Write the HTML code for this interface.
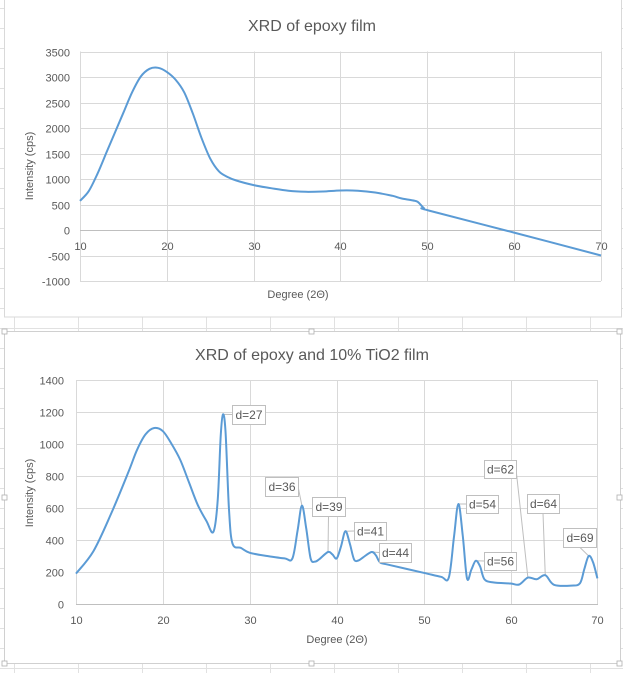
<!DOCTYPE html>
<html><head><meta charset="utf-8">
<style>
html,body{margin:0;padding:0;background:#fff;}
body{width:623px;height:673px;overflow:hidden;position:relative;font-family:"Liberation Sans",sans-serif;}
svg{position:absolute;left:0;top:0;}
text{font-family:"Liberation Sans",sans-serif;fill:#595959;}
</style></head><body>
<svg width="623" height="673" viewBox="0 0 623 673" xmlns="http://www.w3.org/2000/svg">
<g id="bg" stroke="#e1e1e1" stroke-width="1"></g>
<rect x="4.5" y="-1" width="617" height="318" fill="#fff" stroke="#d9d9d9"/>
<text x="312" y="31" font-size="16" text-anchor="middle">XRD of epoxy film</text>
<g id="g1" stroke="#d9d9d9" stroke-width="1"></g>
<g id="t1" font-size="11"></g>
<text x="298" y="298" font-size="11" text-anchor="middle">Degree (2Θ)</text>
<text transform="translate(33,166) rotate(-90)" font-size="11" text-anchor="middle">Intensity (cps)</text>
<path id="p1" fill="none" stroke="#5b9bd5" stroke-width="2"/>
<rect x="4.5" y="331.5" width="616" height="332" fill="#fff" stroke="#d0d0d0"/>
<g fill="#fff" stroke="#b0b0b0" stroke-width="0.8">
<rect x="2" y="329" width="5" height="5"/><rect x="309" y="329" width="5" height="5"/><rect x="617" y="329" width="5" height="5"/>
<rect x="2" y="495" width="5" height="5"/><rect x="617" y="495" width="5" height="5"/>
<rect x="2" y="661" width="5" height="5"/><rect x="309" y="661" width="5" height="5"/><rect x="617" y="661" width="5" height="5"/>
</g>
<text x="312" y="360" font-size="16" text-anchor="middle">XRD of epoxy and 10% TiO2 film</text>
<g id="g2" stroke="#d9d9d9" stroke-width="1"></g>
<g id="t2" font-size="11"></g>
<text x="337" y="643" font-size="11" text-anchor="middle">Degree (2Θ)</text>
<text transform="translate(33,493) rotate(-90)" font-size="11" text-anchor="middle">Intensity (cps)</text>
<g id="lead" stroke="#bfbfbf" stroke-width="1" fill="none"></g>
<path id="p2" fill="none" stroke="#5b9bd5" stroke-width="2"/>
<g id="labs" font-size="12"></g>
</svg>
<script>
var NS="http://www.w3.org/2000/svg";
function el(p,t,a,txt){var e=document.createElementNS(NS,t);for(var k in a)e.setAttribute(k,a[k]);if(txt!=null)e.textContent=txt;document.getElementById(p).appendChild(e);return e;}
[14,78,142,206,270,334,398,462,526,590].forEach(function(x){el("bg","line",{x1:x+.5,y1:0,x2:x+.5,y2:673});});
for(var y=8;y<673;y+=20)el("bg","line",{x1:0,y1:y+.5,x2:623,y2:y+.5});
function smooth(pts){var d="M"+pts[0][0].toFixed(1)+","+pts[0][1].toFixed(1);
for(var i=0;i<pts.length-1;i++){var p0=pts[i-1]||pts[i],p1=pts[i],p2=pts[i+1],p3=pts[i+2]||p2;
var c1=[p1[0]+(p2[0]-p0[0])/6,p1[1]+(p2[1]-p0[1])/6],c2=[p2[0]-(p3[0]-p1[0])/6,p2[1]-(p3[1]-p1[1])/6];
d+="C"+c1[0].toFixed(1)+","+c1[1].toFixed(1)+" "+c2[0].toFixed(1)+","+c2[1].toFixed(1)+" "+p2[0].toFixed(1)+","+p2[1].toFixed(1);}return d;}
var X1=function(d){return 80+(d-10)*8.683},Y1=function(v){return 230-v*0.051};
for(var v=-1000;v<=3500;v+=500){var yy=Math.round(Y1(v))+.5;el("g1","line",{x1:80,y1:yy,x2:601,y2:yy});el("t1","text",{x:70,y:yy+4,"text-anchor":"end"},v);}
for(var d=10;d<=70;d+=10){var xx=Math.round(X1(d))+.5;el("g1","line",{x1:xx,y1:Y1(3500),x2:xx,y2:Y1(-1000)});el("t1","text",{x:xx,y:250,"text-anchor":"middle"},d);}
el("g1","line",{x1:80,y1:230.5,x2:601,y2:230.5,stroke:"#bfbfbf"});
var s1=[[10,570],[11,760],[12,1100],[13,1500],[14,1900],[15,2300],[16,2700],[17,3010],[18,3160],[19,3180],[20,3100],[21,2950],[22,2700],[23,2280],[24,1800],[25,1400],[26,1150],[27,1040],[28,970],[30,880],[32,820],[34,770],[36,750],[38,755],[40,775],[42,770],[44,735],[46,670],[47,620],[48.3,580],[48.9,550],[49.6,430],[50.2,380],[60,-50],[70,-500]];
document.getElementById("p1").setAttribute("d",smooth(s1.map(function(p){return[X1(p[0]),Y1(p[1])]})));
var X2=function(d){return 76+(d-10)*8.69},Y2=function(v){return 604-v*0.16};
for(var v=0;v<=1400;v+=200){var yy=Math.round(Y2(v))+.5;el("g2","line",{x1:76,y1:yy,x2:598,y2:yy});el("t2","text",{x:64,y:yy+4,"text-anchor":"end"},v);}
for(var d=10;d<=70;d+=10){var xx=Math.round(X2(d))+.5;el("g2","line",{x1:xx,y1:Y2(1400),x2:xx,y2:604});el("t2","text",{x:xx,y:624,"text-anchor":"middle"},d);}
el("g2","line",{x1:76,y1:604.5,x2:598,y2:604.5,stroke:"#bfbfbf"});
var s2=[[10,190],[12,330],[14,560],[16,820],[17,960],[18,1060],[19,1100],[20,1080],[21,1000],[22,900],[23,760],[24,620],[25,520],[25.8,450],[26.3,640],[26.65,1050],[26.9,1185],[27.2,1080],[27.6,600],[28,380],[29,350],[30,320],[32,300],[34,285],[34.9,285],[35.5,460],[36,615],[36.5,470],[37,285],[37.5,265],[38,280],[39,325],[39.5,310],[40,285],[40.5,360],[41,455],[41.5,380],[42,278],[42.5,272],[43,290],[44,325],[44.5,305],[45,260],[46,245],[50,195],[52,170],[52.9,165],[53.5,420],[54,625],[54.5,430],[55,160],[55.5,215],[56,270],[56.5,235],[57,155],[58,135],[60,128],[61,122],[62,165],[63,155],[64,180],[65,120],[67,115],[68,130],[68.5,220],[69,300],[69.5,260],[70,160]];
document.getElementById("p2").setAttribute("d",smooth(s2.map(function(p){return[X2(p[0]),Y2(p[1])]})));
var L=[["d=27",232,405,33,19,26.9,1185],["d=36",265,477,33,19,36,615],["d=39",312,497,33,19,39,325],["d=41",354,522,32,18,41,455],["d=44",379,543,32,19,44,325],["d=54",466,495,32,18,54,625],["d=56",484,552,32,18,56,270],["d=62",484,460,32,18,62,165],["d=64",527,494,32,19,64,180],["d=69",563,528,33,19,69,300]];
L.forEach(function(l){var px=X2(l[5]),py=Y2(l[6]);var cx=l[1]+l[3]/2,cy=l[2]+l[4]/2;var ax,ay;
if(px<l[1]){ax=l[1];ay=cy;}else if(px>l[1]+l[3]){ax=l[1]+l[3];ay=cy;}else{ax=cx;ay=py<l[2]?l[2]:l[2]+l[4];}
el("lead","polyline",{points:ax+","+ay+" "+px+","+py});
el("labs","rect",{x:l[1]+.5,y:l[2]+.5,width:l[3],height:l[4],fill:"#fff",stroke:"#bfbfbf"});
el("labs","text",{x:cx+.5,y:cy+4.5,"text-anchor":"middle"},l[0]);});
</script>
</body></html>
